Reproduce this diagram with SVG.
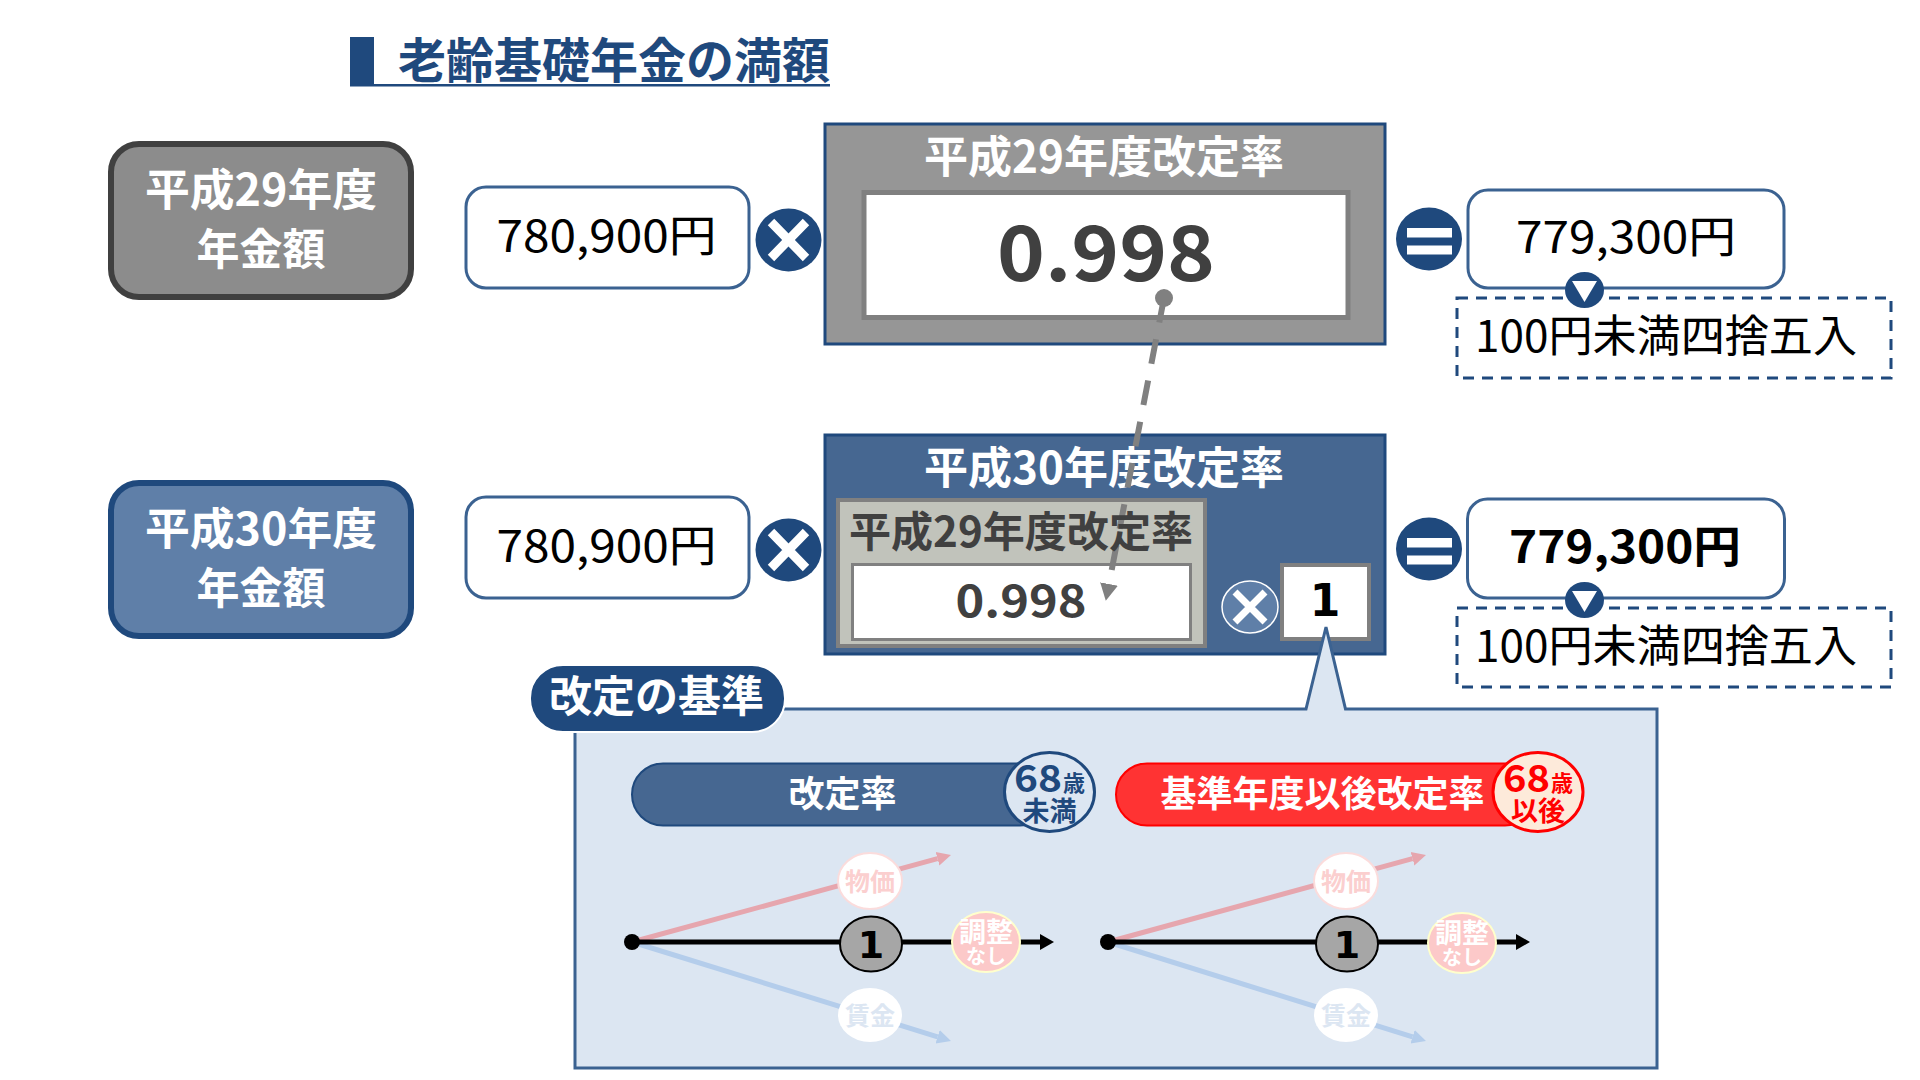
<svg xmlns="http://www.w3.org/2000/svg" width="1920" height="1080" viewBox="0 0 1920 1080">
<style>
text{font-family:"Noto Sans CJK JP","Noto Sans",sans-serif;text-anchor:middle}
.b{font-weight:700}
.w{fill:#fff}
.l{text-anchor:start}
.d{fill:#404040}
.n{fill:#1f497d}
.r{fill:#f00}
.one{font-family:"DejaVu Sans",sans-serif;font-weight:700;fill:#000}
.val{fill:#fff;stroke:#3b6291;stroke-width:3}
.op{fill:#1f497d}
.x{stroke:#fff;stroke-linecap:butt;fill:none}
.tip{fill:none;stroke:#1f497d;stroke-width:3;stroke-dasharray:11 8}
.ln{fill:none;stroke-width:5}
</style>
<defs>
<marker id="mg" markerUnits="userSpaceOnUse" markerWidth="20" markerHeight="20" refX="0" refY="10" orient="auto"><path d="M0,1 L17,10 L0,19 Z" fill="#808080"/></marker>
<marker id="mk" markerUnits="userSpaceOnUse" markerWidth="16" markerHeight="18" refX="0" refY="9" orient="auto"><path d="M0,1 L14,9 L0,17 Z" fill="#000"/></marker>
<marker id="mp" markerUnits="userSpaceOnUse" markerWidth="16" markerHeight="18" refX="0" refY="9" orient="auto"><path d="M0,2 L14,9 L0,16 Z" fill="#e6a6ae"/></marker>
<marker id="mb" markerUnits="userSpaceOnUse" markerWidth="16" markerHeight="18" refX="0" refY="9" orient="auto"><path d="M0,2 L14,9 L0,16 Z" fill="#b4cdeb"/></marker>
</defs>
<rect width="1920" height="1080" fill="#fff"/>

<g id="title">
<rect x="350" y="37" width="24" height="49" fill="#1f497d"/>
<rect x="350" y="84" width="480" height="2.5" fill="#1f497d"/>
<text class="b n l" x="398" y="78" font-size="48">老齢基礎年金の満額</text>
</g>

<g id="label-h29">
<rect x="111" y="144" width="300" height="153" rx="28" fill="#8c8c8c" stroke="#404040" stroke-width="6"/>
<text class="b w" x="261" y="206" font-size="44" textLength="232" lengthAdjust="spacingAndGlyphs">平成29年度</text>
<text class="b w" x="261" y="265" font-size="43">年金額</text>
</g>
<g id="amount-h29">
<rect class="val" x="466" y="187" width="283" height="101" rx="20"/>
<text x="606.500" y="252" font-size="44" textLength="220" lengthAdjust="spacingAndGlyphs">780,900円</text>
</g>
<g id="times-h29">
<ellipse class="op" cx="788.5" cy="240" rx="33" ry="31.5"/>
<path class="x" stroke-width="9" d="M771,222 L806,258 M806,222 L771,258"/>
</g>
<g id="rate-h29">
<rect x="825" y="124" width="560" height="220" fill="#969696" stroke="#1f497d" stroke-width="3"/>
<text class="b w" x="1104" y="173" font-size="44" textLength="360" lengthAdjust="spacingAndGlyphs">平成29年度改定率</text>
<rect x="864" y="192.500" width="484" height="125" fill="#fff" stroke="#808080" stroke-width="5"/>
<text class="b d" x="1106" y="281" font-size="76" textLength="218" lengthAdjust="spacingAndGlyphs">0.998</text>
</g>
<g id="equals-h29">
<ellipse class="op" cx="1429" cy="239" rx="33" ry="31.5"/>
<rect x="1407" y="228" width="45" height="9.500" fill="#fff"/>
<rect x="1407" y="245.500" width="45" height="9" fill="#fff"/>
</g>
<g id="result-h29">
<rect class="val" x="1468" y="190" width="316" height="98" rx="20"/>
<text x="1626" y="253" font-size="44" textLength="220" lengthAdjust="spacingAndGlyphs">779,300円</text>
</g>
<g id="note-h29">
<rect class="tip" x="1457" y="298" width="434" height="80"/>
<text class="l" x="1475" y="352" font-size="44" textLength="382" lengthAdjust="spacingAndGlyphs">100円未満四捨五入</text>
<ellipse class="op" cx="1584.500" cy="290" rx="19.500" ry="18"/>
<path d="M1572,281 H1597 L1584.500,302 Z" fill="#fff"/>
</g>

<g id="label-h30">
<rect x="111" y="483" width="300" height="153" rx="28" fill="#5f7fa8" stroke="#1f497d" stroke-width="6"/>
<text class="b w" x="261" y="545" font-size="44" textLength="232" lengthAdjust="spacingAndGlyphs">平成30年度</text>
<text class="b w" x="261" y="604" font-size="43">年金額</text>
</g>
<g id="amount-h30">
<rect class="val" x="466" y="497" width="283" height="101" rx="20"/>
<text x="606.500" y="562" font-size="44" textLength="220" lengthAdjust="spacingAndGlyphs">780,900円</text>
</g>
<g id="times-h30">
<ellipse class="op" cx="788.5" cy="550" rx="33" ry="31.5"/>
<path class="x" stroke-width="9" d="M771,532 L806,568 M806,532 L771,568"/>
</g>
<g id="rate-h30">
<rect x="825" y="435" width="560" height="219" fill="#466791" stroke="#1f497d" stroke-width="3"/>
<text class="b w" x="1104" y="484" font-size="44" textLength="360" lengthAdjust="spacingAndGlyphs">平成30年度改定率</text>
<rect x="838" y="500" width="367" height="146" fill="#c1c3bb" stroke="#808080" stroke-width="4"/>
<rect x="852.500" y="564.500" width="338" height="75" fill="#fff" stroke="#808080" stroke-width="3"/>
<text class="b d" x="1021" y="617" font-size="44" textLength="131" lengthAdjust="spacingAndGlyphs">0.998</text>
<ellipse cx="1250" cy="607" rx="28" ry="26" fill="#5f7fa8" stroke="#fff" stroke-width="1.500"/>
<path class="x" stroke-width="7" d="M1235,592 L1265,622 M1265,592 L1235,622"/>
<rect x="1282" y="565" width="87" height="74" fill="#fff" stroke="#808080" stroke-width="4"/>
<text class="one" x="1325" y="616" font-size="44">1</text>
</g>
<g id="equals-h30">
<ellipse class="op" cx="1429" cy="549" rx="33" ry="31.5"/>
<rect x="1407" y="538" width="45" height="9.500" fill="#fff"/>
<rect x="1407" y="555.500" width="45" height="9" fill="#fff"/>
</g>
<g id="result-h30">
<rect class="val" x="1467.500" y="499" width="317" height="99" rx="20"/>
<text class="b" x="1625" y="563" font-size="44" textLength="232" lengthAdjust="spacingAndGlyphs">779,300円</text>
</g>
<g id="note-h30">
<rect class="tip" x="1457" y="608" width="434" height="79"/>
<text class="l" x="1475" y="662" font-size="44" textLength="382" lengthAdjust="spacingAndGlyphs">100円未満四捨五入</text>
<ellipse class="op" cx="1584.500" cy="600" rx="19.500" ry="18"/>
<path d="M1572,591 H1597 L1584.500,612 Z" fill="#fff"/>
</g>

<g id="criteria-panel">
<path d="M575,709 H1306 L1326,627 L1345.500,709 H1657 V1068 H575 Z" fill="#dce6f2" stroke="#3b6291" stroke-width="3"/>
</g>
<g id="criteria-badge">
<rect x="530" y="665" width="255" height="67" rx="33" fill="#1f497d" stroke="#fff" stroke-width="2"/>
<text class="b w" x="656.500" y="712" font-size="43">改定の基準</text>
</g>

<g id="connectors">
<circle cx="1164" cy="298" r="9" fill="#808080"/>
<line x1="1164" y1="298" x2="1109" y2="584" stroke="#808080" stroke-width="6" stroke-dasharray="25 17" marker-end="url(#mg)"/>
<g class="ln">
<line x1="632" y1="942" x2="937.500" y2="858.700" stroke="#e6a6ae" stroke-width="5" marker-end="url(#mp)"/>
<line x1="632" y1="942" x2="937.600" y2="1036.800" stroke="#b4cdeb" stroke-width="5" marker-end="url(#mb)"/>
<line x1="632" y1="942" x2="1040" y2="942" stroke="#000" stroke-width="5" marker-end="url(#mk)"/>
<circle cx="632" cy="942" r="8" fill="#000"/>
<line x1="1108" y1="942" x2="1412.500" y2="858.700" stroke="#e6a6ae" stroke-width="5" marker-end="url(#mp)"/>
<line x1="1108" y1="942" x2="1412.600" y2="1036.800" stroke="#b4cdeb" stroke-width="5" marker-end="url(#mb)"/>
<line x1="1108" y1="942" x2="1516" y2="942" stroke="#000" stroke-width="5" marker-end="url(#mk)"/>
<circle cx="1108" cy="942" r="8" fill="#000"/>
</g>
</g>

<g id="rate-h29-inner-label">
<text class="b d" x="1021" y="547" font-size="42" textLength="344" lengthAdjust="spacingAndGlyphs">平成29年度改定率</text>
</g>

<g id="pill-rate">
<rect x="632" y="763.500" width="419" height="62" rx="31" fill="#466791" stroke="#1f497d" stroke-width="2"/>
<text class="b w" x="842.500" y="807" font-size="36">改定率</text>
<ellipse cx="1049.500" cy="792" rx="45" ry="39.500" fill="#dce6f2" stroke="#1f497d" stroke-width="3"/>
<text class="b n l" x="1014" y="792" font-size="37" textLength="48" lengthAdjust="spacingAndGlyphs">68</text>
<text class="b n l" x="1063" y="791" font-size="22">歳</text>
<text class="b n" x="1049.500" y="821" font-size="27">未満</text>
</g>
<g id="pill-base-rate">
<rect x="1116" y="763.500" width="420" height="62" rx="31" fill="#ff3333" stroke="#f00" stroke-width="2"/>
<text class="b w" x="1322.500" y="807" font-size="36">基準年度以後改定率</text>
<ellipse cx="1538" cy="792" rx="45" ry="39.500" fill="#fdeada" stroke="#f00" stroke-width="3"/>
<text class="b r l" x="1503" y="792" font-size="37" textLength="47" lengthAdjust="spacingAndGlyphs">68</text>
<text class="b r l" x="1551" y="791" font-size="22">歳</text>
<text class="b r" x="1538" y="821" font-size="27">以後</text>
</g>

<g id="chart-rate">
<ellipse cx="870" cy="881" rx="32" ry="28" fill="#fff" stroke="#fbdcdc" stroke-width="2"/>
<text class="b" x="870" y="891" font-size="25" fill="#fbcfcf">物価</text>
<ellipse cx="871" cy="944" rx="31" ry="27.500" fill="#a6a6a6" stroke="#000" stroke-width="2"/>
<text class="one" x="871" y="958" font-size="38">1</text>
<ellipse cx="986" cy="942" rx="34" ry="30" fill="#fcc9c9" stroke="#ffffcc" stroke-width="2"/>
<text class="b w" x="986" y="942" font-size="27">調整</text>
<text class="b w" x="986" y="964" font-size="20">なし</text>
<ellipse cx="870" cy="1015" rx="32" ry="27" fill="#fff"/>
<text class="b" x="870" y="1025" font-size="25" fill="#dce6f2">賃金</text>
</g>
<g id="chart-base-rate">
<ellipse cx="1346" cy="881" rx="32" ry="28" fill="#fff" stroke="#fbdcdc" stroke-width="2"/>
<text class="b" x="1346" y="891" font-size="25" fill="#fbcfcf">物価</text>
<ellipse cx="1347" cy="944" rx="31" ry="27.500" fill="#a6a6a6" stroke="#000" stroke-width="2"/>
<text class="one" x="1347" y="958" font-size="38">1</text>
<ellipse cx="1462" cy="943" rx="34" ry="30" fill="#fcc9c9" stroke="#ffffcc" stroke-width="2"/>
<text class="b w" x="1462" y="943" font-size="27">調整</text>
<text class="b w" x="1462" y="965" font-size="20">なし</text>
<ellipse cx="1346" cy="1015" rx="32" ry="27" fill="#fff"/>
<text class="b" x="1346" y="1025" font-size="25" fill="#dce6f2">賃金</text>
</g>
</svg>
